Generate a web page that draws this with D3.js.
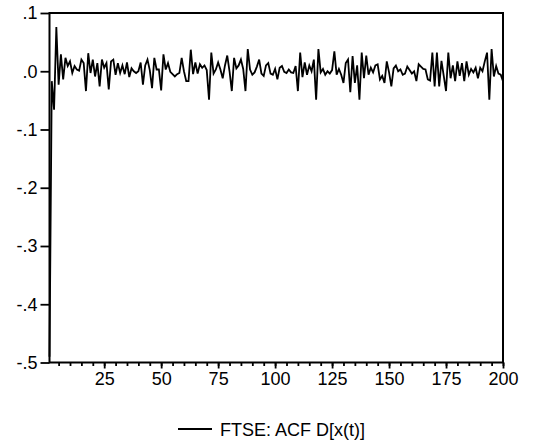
<!DOCTYPE html>
<html lang="en">
<head>
    <meta charset="utf-8">
    <title>FTSE: ACF D[x(t)]</title>
    <script src="https://cdnjs.cloudflare.com/ajax/libs/d3/7.8.5/d3.min.js"></script>
    <style>
        body { margin: 0; background: #fff; }
        svg text { font-family: "Liberation Sans", Arial, sans-serif; fill: #000; }
    </style>
</head>
<body>
<div id="graphContent"></div>
<script>
    // ACF values for lags 1..200
    var acfValues = [
        -0.49, -0.017, -0.066, 0.076, -0.023, 0.029, -0.014, 0.023, 0.009, 0.017,
        -0.003, 0.009, 0.003, 0.001, 0.020, 0.014, -0.034, 0.031, -0.003, 0.020,
        -0.009, 0.014, -0.026, 0.020, 0.006, 0.014, -0.031, 0.017, 0.020, -0.006,
        0.014, -0.003, 0.010, -0.005, 0.015, -0.010, 0.005, 0.000, -0.003, 0.000,
        0.015, -0.023, 0.010, 0.020, 0.002, -0.029, 0.023, 0.003, 0.003, -0.033,
        0.029, 0.003, 0.014, -0.001, -0.005, -0.009, -0.005, -0.003, 0.023, 0.000,
        -0.017, -0.017, 0.037, -0.005, 0.015, -0.004, 0.012, 0.006, 0.010, 0.002,
        -0.049, 0.032, -0.004, 0.003, 0.015, 0.003, -0.012, 0.010, 0.027, 0.000,
        -0.034, 0.023, 0.005, 0.010, 0.020, 0.004, -0.034, 0.038, 0.003, -0.006,
        -0.002, 0.008, 0.020, -0.004, -0.008, 0.010, 0.014, -0.004, -0.006, 0.004,
        -0.014, 0.006, 0.009, -0.001, -0.003, 0.003, -0.002, -0.003, 0.009, -0.034,
        0.032, -0.010, 0.015, -0.006, 0.010, 0.000, 0.020, -0.049, 0.038, -0.002,
        0.004, -0.006, 0.000, -0.004, 0.002, 0.034, -0.006, 0.004, -0.006, -0.020,
        0.014, 0.020, -0.036, 0.026, -0.020, 0.010, -0.049, 0.032, -0.012, 0.027,
        -0.006, 0.006, -0.002, 0.010, 0.012, -0.014, -0.008, -0.020, 0.017, -0.002,
        -0.026, 0.005, 0.010, 0.000, 0.003, -0.006, -0.004, 0.008, 0.002, -0.004,
        0.000, -0.017, 0.012, 0.008, 0.004, 0.003, -0.014, -0.016, 0.032, -0.026,
        0.032, -0.026, 0.018, -0.008, -0.034, 0.032, -0.012, 0.010, -0.017, 0.017,
        -0.008, 0.014, -0.017, 0.017, -0.006, 0.004, -0.002, 0.006, -0.012, 0.006,
        0.000, 0.017, 0.032, -0.049, 0.038, -0.009, 0.009, -0.004, -0.006, -0.017
    ];
    var xMajorTicks = [25, 50, 75, 100, 125, 150, 175, 200];
    var xMinorTicks = d3.range(5, 201, 5);
    var yTicks = [0.1, 0.0, -0.1, -0.2, -0.3, -0.4, -0.5];
    var yTickLabels = [".1", ".0", "-.1", "-.2", "-.3", "-.4", "-.5"];
    var seriesName = "FTSE: ACF D[x(t)]";

    var svgWidth = 533, svgHeight = 447;
    var plot = {left: 49.5, right: 503, top: 13, bottom: 362.5};
    var fontSize = "18px";

    var xScale = d3.scaleLinear().domain([1, 200]).range([plot.left, plot.right]);
    var yScale = d3.scaleLinear().domain([-0.5, 0.1]).range([plot.bottom, plot.top]);

    var svg = d3.select("#graphContent").append("svg")
        .attr("width", svgWidth)
        .attr("height", svgHeight);

    // the series
    var line = d3.line()
        .x(function (d, i) { return xScale(i + 1); })
        .y(function (d) { return yScale(d); });

    svg.append("path")
        .datum(acfValues)
        .attr("d", line)
        .attr("fill", "none")
        .attr("stroke", "#000")
        .attr("stroke-width", 1.8);

    // frame
    svg.append("rect")
        .attr("x", plot.left)
        .attr("y", plot.top)
        .attr("width", plot.right - plot.left)
        .attr("height", plot.bottom - plot.top)
        .attr("fill", "none")
        .attr("stroke", "#000")
        .attr("stroke-width", 2);

    // y axis
    var yAxis = d3.axisLeft(yScale)
        .tickValues(yTicks)
        .tickSize(9)
        .tickPadding(3)
        .tickFormat(function (d, i) { return yTickLabels[i]; });

    var yG = svg.append("g")
        .attr("transform", "translate(" + plot.left + ",0)")
        .call(yAxis);
    yG.select(".domain").remove();
    yG.selectAll("line").attr("stroke-width", 1.8);
    yG.selectAll("text").style("font-size", fontSize).attr("font-family", null);

    // x axis: minor ticks then major ticks with labels
    var xMinor = svg.append("g")
        .attr("transform", "translate(0," + plot.bottom + ")")
        .call(d3.axisBottom(xScale).tickValues(xMinorTicks).tickSize(3.5).tickFormat(""));
    xMinor.select(".domain").remove();
    xMinor.selectAll("line").attr("stroke-width", 1.8);

    var xG = svg.append("g")
        .attr("transform", "translate(0," + plot.bottom + ")")
        .call(d3.axisBottom(xScale).tickValues(xMajorTicks).tickSize(6).tickPadding(4));
    xG.select(".domain").remove();
    xG.selectAll("line").attr("stroke-width", 1.8);
    xG.selectAll("text").style("font-size", fontSize).attr("font-family", null);

    // legend
    var legend = svg.append("g").attr("transform", "translate(178,429)");
    legend.append("line")
        .attr("x1", 0).attr("x2", 34)
        .attr("y1", 0).attr("y2", 0)
        .attr("stroke", "#000")
        .attr("stroke-width", 1.8);
    legend.append("text")
        .attr("x", 42)
        .attr("y", 6.5)
        .style("font-size", fontSize)
        .text(seriesName);
</script>
</body>
</html>
